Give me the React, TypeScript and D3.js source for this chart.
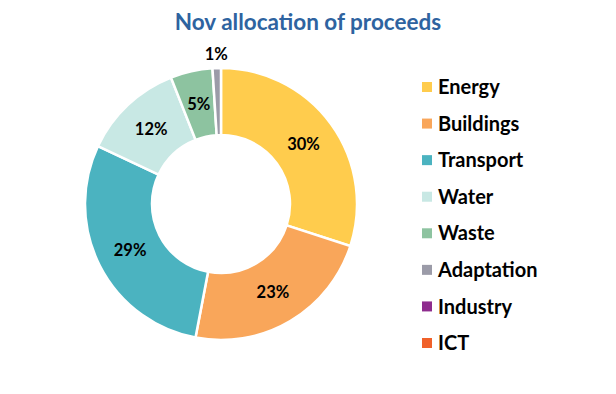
import * as d3 from "d3";

const categories = ["Energy", "Buildings", "Transport", "Water", "Waste", "Adaptation", "Industry", "ICT"];
const shares = [30, 23, 29, 12, 5, 1, 0, 0];
const colors = ["#FFCC4D", "#F9A65A", "#4BB3C0", "#C8E8E4", "#8DC3A0", "#9B9BA8", "#8E2C8E", "#F0612A"];

const W = 616;
const H = 394;
const cx = 221;
const cy = 204;
const outerR = 136;
const innerR = 69;
const font = "Lato, 'Open Sans', sans-serif";

type Row = { name: string; value: number; color: string };

export default function App() {
  const rows: Row[] = categories.map((name, i) => ({ name, value: shares[i], color: colors[i] }));
  const pie = d3.pie<Row>().value((d) => d.value).sort(null);
  const arcs = pie(rows);
  const arc = d3.arc<d3.PieArcDatum<Row>>().innerRadius(innerR).outerRadius(outerR);
  const labelArc = d3.arc<d3.PieArcDatum<Row>>().innerRadius(102).outerRadius(102);
  const outerLabelArc = d3.arc<d3.PieArcDatum<Row>>().innerRadius(150).outerRadius(150);

  const legendY = d3.scalePoint<string>().domain(categories).range([87, 343]);

  return (
    <svg width={W} height={H} style={{ position: "absolute", left: 0, top: 0, background: "#fff" }}>
      <text x={308} y={30} textAnchor="middle" fontFamily={font} fontWeight="bold" fontSize={22.5} fill="#2E63A0">
        Nov allocation of proceeds
      </text>
      <g transform={`translate(${cx},${cy})`}>
        {arcs.filter((a) => a.data.value > 0).map((a) => (
          <path key={a.data.name} d={arc(a) || ""} fill={a.data.color} stroke="#fff" strokeWidth={2.5} />
        ))}
        {arcs.filter((a) => a.data.value > 0).map((a) => {
          const small = a.data.value < 3;
          const [x, y] = small ? outerLabelArc.centroid(a) : labelArc.centroid(a);
          return (
            <text key={a.data.name} x={x} y={y} dy="0.35em" textAnchor="middle" fontFamily={font}
              fontWeight="bold" fontSize={16.5} fill="#000">
              {a.data.value}%
            </text>
          );
        })}
      </g>
      {rows.map((r) => (
        <g key={r.name} transform={`translate(422,${legendY(r.name)})`}>
          <rect x={0} y={-5} width={10} height={10} fill={r.color} />
          <text x={16} y={0} dy="0.36em" fontFamily={font} fontWeight="bold" fontSize={20} fill="#000">
            {r.name}
          </text>
        </g>
      ))}
    </svg>
  );
}
